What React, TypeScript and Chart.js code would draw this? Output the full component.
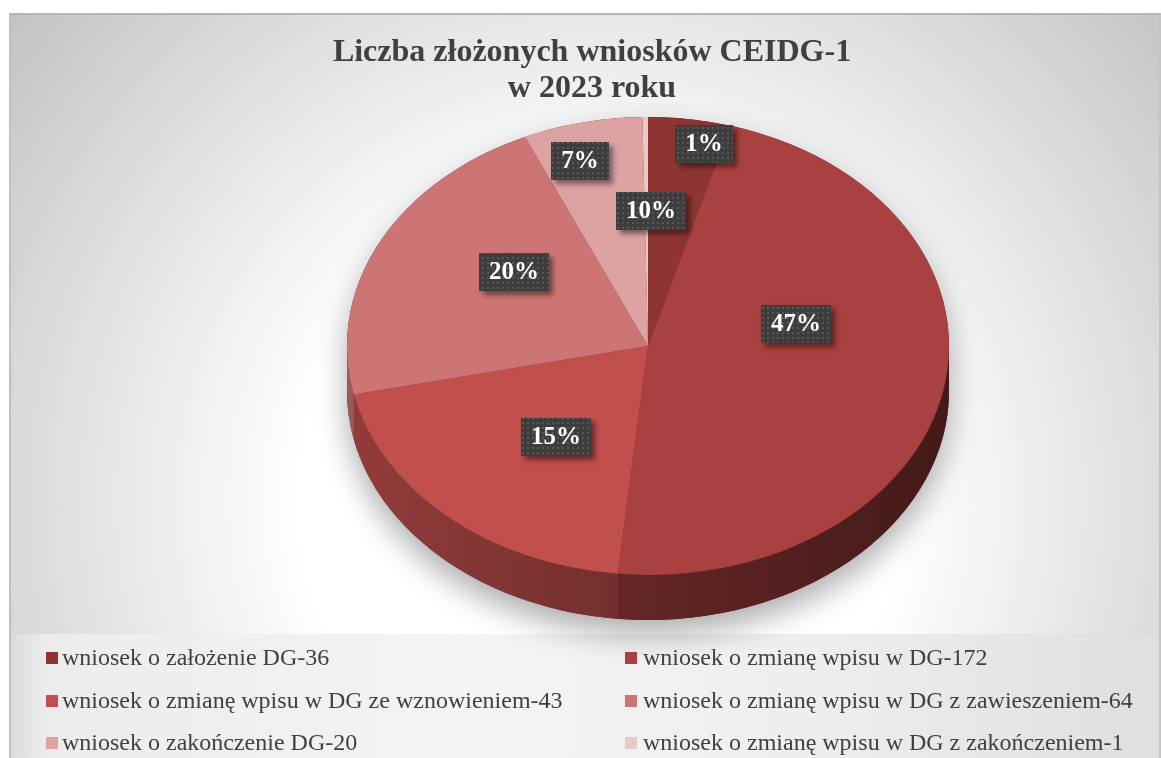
import React, { useEffect, useRef } from 'react';
import { Chart, registerables } from 'chart.js';

Chart.register(...registerables);

// ---------- data ----------
const categories = [
  'wniosek o założenie DG-36',
  'wniosek o zmianę wpisu w DG-172',
  'wniosek o zmianę wpisu w DG ze wznowieniem-43',
  'wniosek o zmianę wpisu w DG z zawieszeniem-64',
  'wniosek o zakończenie DG-20',
  'wniosek o zmianę wpisu w DG z zakończeniem-1',
];
// share of the circle as drawn in the picture (percent)
const sliceShares = [4.4, 47.2, 20.0, 21.7, 6.4, 0.3];
// data labels as printed on the picture
const labelTexts = ['1%', '47%', '15%', '20%', '7%', '10%'];
const sliceColors = ['#8E3533', '#A8413F', '#C04F4D', '#CC7574', '#DCA3A2', '#E9C9C8'];
const titleLines = ['Liczba złożonych wniosków CEIDG-1', 'w 2023 roku'];

// ---------- style ----------
const labelAngleShift = [4, -22, -4, 9, -3, 1.5]; // degrees from slice middle
const labelRadius = [0.9, 0.5, 0.5, 0.55, 0.84, 0.59]; // fraction of radius
const PIE_CX = 648;
const PIE_CY = 346;
const TILT = 229 / 301;
const DEPTH = 45;
const SERIF = '"Liberation Serif", "Times New Roman", serif';

let dotPattern: CanvasPattern | null = null;
function getPattern(ctx: CanvasRenderingContext2D) {
  if (dotPattern) return dotPattern;
  const c = document.createElement('canvas');
  c.width = 5;
  c.height = 5;
  const p = c.getContext('2d')!;
  p.fillStyle = '#3d3d3d';
  p.fillRect(0, 0, 5, 5);
  p.fillStyle = '#585858';
  p.fillRect(2, 2, 2, 2);
  dotPattern = ctx.createPattern(c, 'repeat');
  return dotPattern;
}

const pie3d = {
  id: 'pie3d',
  beforeDatasetsDraw(chart: any) {
    const ctx: CanvasRenderingContext2D = chart.ctx;
    const arcs = chart.getDatasetMeta(0).data as any[];
    if (!arcs.length) return;
    const { x: cx, y: cy, outerRadius: R } = arcs[0].getProps(['x', 'y', 'outerRadius'], true);
    const ry = R * TILT;

    // soft shadow of the whole solid
    ctx.save();
    ctx.beginPath();
    ctx.ellipse(PIE_CX, PIE_CY, R, ry, 0, Math.PI, 2 * Math.PI);
    ctx.lineTo(PIE_CX + R, PIE_CY + DEPTH);
    ctx.ellipse(PIE_CX, PIE_CY + DEPTH, R, ry, 0, 0, Math.PI);
    ctx.closePath();
    ctx.shadowColor = 'rgba(0,0,0,0.32)';
    ctx.shadowBlur = 30;
    ctx.shadowOffsetY = 14;
    ctx.fillStyle = '#5a1a1a';
    ctx.fill();
    ctx.restore();

    // side walls of the front half
    ctx.save();
    arcs.forEach((arc: any) => {
      const { startAngle: s, endAngle: e } = arc.getProps(['startAngle', 'endAngle'], true);
      const a = Math.max(s, 0);
      const b = Math.min(e, Math.PI);
      if (b <= a) return;
      ctx.beginPath();
      ctx.ellipse(PIE_CX, PIE_CY, R, ry, 0, a, b);
      ctx.lineTo(PIE_CX + R * Math.cos(b), PIE_CY + ry * Math.sin(b) + DEPTH);
      ctx.ellipse(PIE_CX, PIE_CY + DEPTH, R, ry, 0, b, a, true);
      ctx.closePath();
      ctx.fillStyle = arc.options.backgroundColor;
      ctx.fill();
      const g = ctx.createLinearGradient(PIE_CX - R, 0, PIE_CX + R, 0);
      g.addColorStop(0, 'rgba(0,0,0,0.24)');
      g.addColorStop(1, 'rgba(0,0,0,0.6)');
      ctx.fillStyle = g;
      ctx.fill();
    });
    ctx.restore();

    // tilt the top face
    ctx.save();
    ctx.translate(PIE_CX, PIE_CY);
    ctx.scale(1, TILT);
    ctx.translate(-cx, -cy);
  },
  afterDatasetsDraw(chart: any) {
    const ctx: CanvasRenderingContext2D = chart.ctx;
    const arcs = chart.getDatasetMeta(0).data as any[];
    if (!arcs.length) return;
    ctx.restore();
    const { outerRadius: R } = arcs[0].getProps(['outerRadius'], true);
    ctx.save();
    ctx.font = `bold 25px ${SERIF}`;
    arcs.forEach((arc: any, i: number) => {
      const { startAngle: s, endAngle: e } = arc.getProps(['startAngle', 'endAngle'], true);
      const mid = (s + e) / 2 + (labelAngleShift[i] * Math.PI) / 180;
      const r = labelRadius[i] * R;
      const x = PIE_CX + r * Math.cos(mid);
      const y = PIE_CY + r * TILT * Math.sin(mid);
      const text = labelTexts[i];
      const tw = ctx.measureText(text).width;
      const w = Math.round(tw + 20);
      const h = 38;
      const bx = Math.round(x - w / 2);
      const by = Math.round(y - h / 2);
      ctx.save();
      ctx.shadowColor = 'rgba(0,0,0,0.45)';
      ctx.shadowBlur = 5;
      ctx.shadowOffsetX = 4;
      ctx.shadowOffsetY = 4;
      ctx.fillStyle = '#3d3d3d';
      ctx.fillRect(bx, by, w, h);
      ctx.restore();
      ctx.fillStyle = getPattern(ctx) || '#3d3d3d';
      ctx.fillRect(bx, by, w, h);
      ctx.fillStyle = '#ffffff';
      ctx.textAlign = 'center';
      ctx.textBaseline = 'middle';
      ctx.fillText(text, bx + w / 2, by + h / 2 + 1);
    });
    ctx.restore();
  },
};

const legendBaselines = [665, 708, 750];
const legendCols = [
  { marker: 46, text: 62 },
  { marker: 625, text: 643 },
];

export default function App() {
  const ref = useRef<HTMLCanvasElement>(null);

  useEffect(() => {
    const canvas = ref.current;
    if (!canvas) return;
    const chart = new Chart(canvas, {
      type: 'pie',
      data: {
        labels: categories,
        datasets: [
          {
            data: sliceShares,
            backgroundColor: sliceColors,
            borderWidth: 0,
            clip: false,
          } as any,
        ],
      },
      options: {
        responsive: false,
        animation: false,
        events: [],
        layout: { padding: { top: 35, left: 23, right: 0, bottom: 39 } },
        plugins: {
          legend: { display: false },
          tooltip: { enabled: false },
          title: {
            display: true,
            text: titleLines,
            color: '#404040',
            font: { family: SERIF, size: 32, weight: 'bold', lineHeight: 1.125 },
            padding: { top: 0, bottom: 10 },
          },
        },
      } as any,
      plugins: [pie3d as any],
    });
    return () => chart.destroy();
  }, []);

  return (
    <div
      style={{
        position: 'absolute',
        left: 0,
        top: 0,
        width: 1161,
        height: 758,
        overflow: 'hidden',
        background: '#ffffff',
      }}
    >
      <div
        style={{
          position: 'absolute',
          left: 9,
          top: 13,
          width: 1152,
          height: 745,
          boxSizing: 'border-box',
          borderTop: '2px solid #b6b6b6',
          borderLeft: '2px solid #c0c0c0',
          borderRight: '2px solid #c4c4c4',
          background: '#d8d8d8',
        }}
      />
      <div
        style={{
          position: 'absolute',
          left: 11,
          top: 15,
          width: 1148,
          height: 619,
          background:
            'radial-gradient(circle 800px at 589px 485px, #ffffff 0px, #ffffff 300px, #bebebe 800px)',
        }}
      />
      <div
        style={{
          position: 'absolute',
          left: 11,
          top: 634,
          width: 1148,
          height: 124,
          background:
            'linear-gradient(90deg, #dcdcdc 0%, #ececec 3%, #f4f4f4 40%, #eeeeee 70%, #dfdfdf 100%)',
        }}
      />
      <canvas
        ref={ref}
        width={1161}
        height={758}
        style={{ position: 'absolute', left: 0, top: 0, width: 1161, height: 758 }}
      />
      {categories.map((name, i) => {
        const col = legendCols[i % 2];
        const base = legendBaselines[Math.floor(i / 2)];
        return (
          <div
            key={name}
            style={{
              position: 'absolute',
              left: col.marker,
              top: base - 22,
              height: 28,
              width: 560,
              fontFamily: SERIF,
              fontSize: 24,
              lineHeight: '28px',
              color: '#404040',
              whiteSpace: 'nowrap',
            }}
          >
            <span
              style={{
                position: 'absolute',
                left: 0,
                top: 9,
                width: 12,
                height: 12,
                background: sliceColors[i],
              }}
            />
            <span style={{ position: 'absolute', left: col.text - col.marker, top: 0 }}>{name}</span>
          </div>
        );
      })}
    </div>
  );
}
